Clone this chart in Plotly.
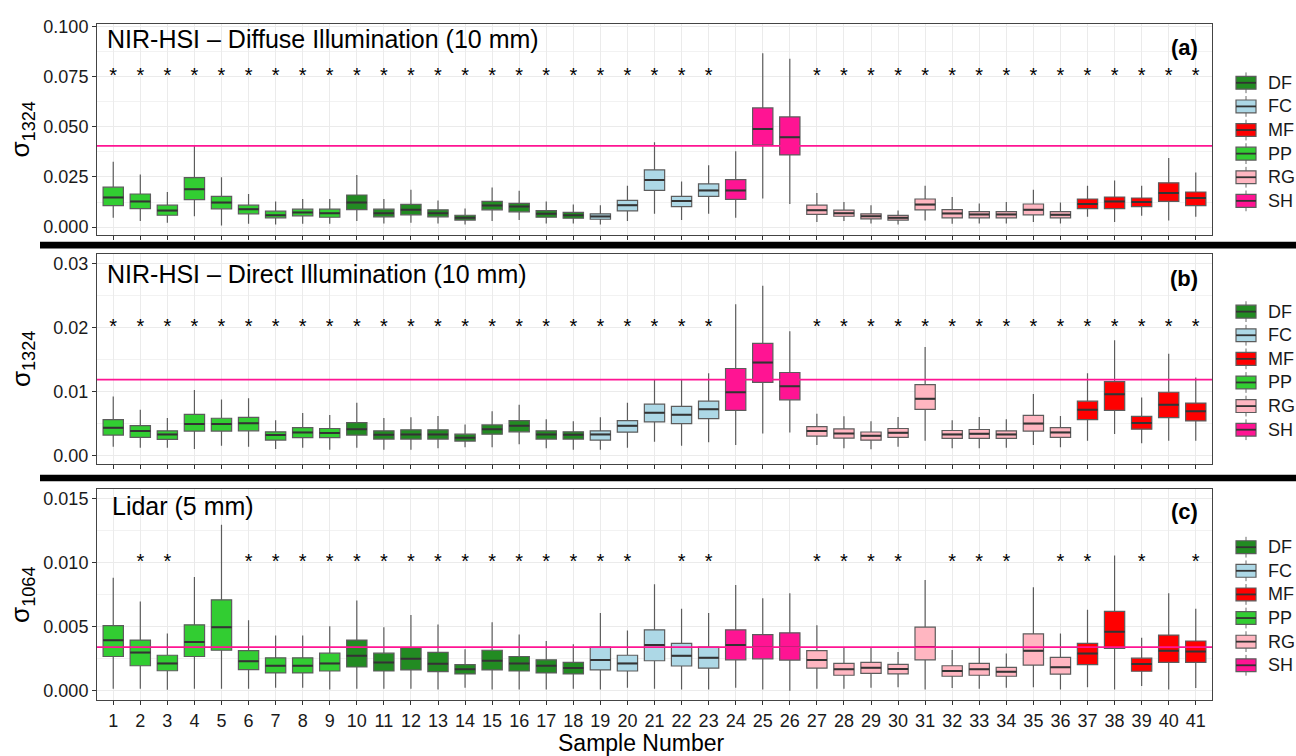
import plotly.graph_objects as go

W, H = 1296, 756
FONT = "Liberation Sans, Arial, sans-serif"

# ---------------- data ----------------
SAMPLES = list(range(1, 42))
GROUP = ["PP"] * 9 + ["DF"] * 9 + ["FC"] * 5 + ["SH"] * 3 + ["RG"] * 10 + ["MF"] * 5
GROUP_ORDER = ["DF", "FC", "MF", "PP", "RG", "SH"]
GROUP_COLORS = {"DF": "#228B22", "FC": "#ADD8E6", "MF": "#FF0000",
                "PP": "#32CD32", "RG": "#FFB6C1", "SH": "#FF1493"}

# Panel (a) NIR-HSI diffuse: lower whisker, q1, median, q3, upper whisker
A_LO = [.0046, .0030, .0022, .0054, .0008, .0017, .0013, .0017, .0017, .0030,
        .0018, .0022, .0018, .0013, .0030, .0035, .0018, .0018, .0013, .0030,
        .0066, .0035, .0066, .0046, .0142, .0115, .0025, .0030, .0018, .0013,
        .0033, .0017, .0018, .0018, .0025, .0018, .0051, .0025, .0056, .0033, .0051]
A_Q1 = [.0107, .0092, .0059, .0137, .0091, .0066, .0046, .0056, .0049, .0087,
        .0051, .0061, .0051, .0035, .0086, .0076, .0049, .0044, .0039, .0081,
        .0183, .0102, .0153, .0138, .0409, .0360, .0063, .0054, .0041, .0035,
        .0086, .0046, .0046, .0046, .0061, .0046, .0092, .0092, .0102, .0128, .0107]
A_MED = [.0148, .0128, .0082, .0189, .0122, .0089, .0059, .0073, .0069, .0122,
         .0069, .0086, .0069, .0046, .0107, .0102, .0066, .0059, .0053, .0109,
         .0235, .0130, .0183, .0183, .0490, .0449, .0084, .0069, .0054, .0046,
         .0112, .0068, .0063, .0063, .0086, .0061, .0115, .0128, .0125, .0170, .0145]
A_Q3 = [.0199, .0165, .0109, .0247, .0153, .0109, .0079, .0089, .0089, .0160,
        .0089, .0113, .0086, .0059, .0128, .0118, .0082, .0073, .0066, .0133,
        .0285, .0153, .0216, .0237, .0595, .0550, .0109, .0084, .0066, .0058,
        .0140, .0087, .0077, .0077, .0115, .0077, .0140, .0150, .0145, .0221, .0175]
A_HI = [.0326, .0263, .0175, .0405, .0249, .0165, .0128, .0140, .0140, .0260,
        .0140, .0186, .0133, .0092, .0197, .0181, .0128, .0112, .0109, .0206,
        .0424, .0227, .0309, .0378, .0868, .0841, .0170, .0125, .0109, .0082,
        .0206, .0150, .0118, .0125, .0186, .0123, .0206, .0232, .0206, .0345, .0273]

# Panel (b) NIR-HSI direct
B_LO = [.00144, .00128, .00128, .00108, .00159, .00144, .00108, .00128, .00097, .00128,
        .00097, .00097, .00118, .00133, .00133, .00180, .00118, .00097, .00097, .00128,
        .00221, .00159, .00211, .00170, .00349, .00365, .00170, .00118, .00103, .00144,
        .00236, .00118, .00118, .00128, .00170, .00133, .00236, .00340, .00195, .00236, .00236]
B_Q1 = [.00324, .00288, .00257, .00386, .00386, .00391, .00247, .00283, .00283, .00324,
        .00262, .00262, .00262, .00231, .00339, .00375, .00262, .00262, .00247, .00370,
        .00530, .00504, .00581, .00710, .01147, .00874, .00309, .00278, .00244, .00288,
        .00726, .00272, .00272, .00272, .00386, .00288, .00565, .00710, .00417, .00596, .00545]
B_MED = [.00437, .00386, .00334, .00499, .00499, .00509, .00324, .00365, .00355, .00417,
         .00329, .00334, .00334, .00283, .00417, .00468, .00334, .00329, .00334, .00468,
         .00674, .00643, .00726, .00993, .01456, .01085, .00386, .00349, .00313, .00360,
         .00890, .00334, .00344, .00334, .00504, .00365, .00720, .00962, .00514, .00797, .00695]
B_Q3 = [.00565, .00473, .00391, .00648, .00587, .00602, .00375, .00442, .00427, .00519,
        .00391, .00406, .00406, .00339, .00483, .00550, .00391, .00375, .00391, .00550,
        .00807, .00772, .00854, .01363, .01754, .01301, .00457, .00421, .00372, .00427,
        .01112, .00396, .00411, .00391, .00633, .00442, .00854, .01158, .00617, .00993, .00823]
B_HI = [.00926, .00720, .00591, .01029, .00880, .00900, .00556, .00668, .00638, .00828,
        .00591, .00602, .00622, .00488, .00695, .00797, .00571, .00540, .00602, .00828,
        .01183, .01183, .01291, .02366, .02655, .01945, .00658, .00617, .00540, .00607,
        .01698, .00556, .00607, .00571, .00967, .00622, .01291, .01806, .00911, .01595, .01224]

# Panel (c) Lidar
C_LO = [.00015, .00015, .00008, .00015, .00015, .00015, .00023, .00023, .00010, .00015,
        .00015, .00015, .00010, .00023, .00010, .00010, .00010, .00015, .00010, .00023,
        .00015, .00010, .00010, .00023, .00010, .00000, .00015, .00015, .00023, .00028,
        .00010, .00021, .00015, .00023, .00028, .00010, .00028, .00010, .00036, .00010, .00021]
C_Q1 = [.00267, .00195, .00156, .00267, .00316, .00164, .00139, .00139, .00154, .00185,
        .00154, .00162, .00149, .00131, .00162, .00154, .00139, .00131, .00162, .00154,
        .00234, .00193, .00177, .00241, .00249, .00239, .00177, .00121, .00136, .00131,
        .00241, .00113, .00121, .00113, .00200, .00129, .00203, .00331, .00152, .00221, .00221]
C_MED = [.00393, .00298, .00213, .00380, .00496, .00231, .00195, .00195, .00213, .00272,
         .00221, .00249, .00210, .00167, .00234, .00213, .00195, .00177, .00239, .00213,
         .00357, .00272, .00257, .00357, .00341, .00341, .00239, .00167, .00180, .00169,
         .00341, .00154, .00167, .00149, .00311, .00183, .00290, .00460, .00208, .00311, .00306]
C_Q3 = [.00508, .00395, .00277, .00514, .00709, .00313, .00257, .00257, .00293, .00395,
        .00293, .00337, .00300, .00203, .00316, .00267, .00241, .00221, .00341, .00277,
        .00475, .00370, .00341, .00475, .00437, .00452, .00313, .00213, .00221, .00206,
        .00496, .00195, .00213, .00183, .00444, .00260, .00370, .00619, .00254, .00434, .00388]
C_HI = [.00881, .00696, .00447, .00888, .01294, .00550, .00431, .00431, .00503, .00703,
        .00496, .00591, .00516, .00324, .00534, .00439, .00388, .00362, .00606, .00470,
        .00830, .00639, .00606, .00824, .00722, .00760, .00511, .00337, .00337, .00303,
        .00863, .00318, .00337, .00290, .00807, .00447, .00632, .01055, .00414, .00760, .00639]

# threshold lines and significance markers
THRESH = [0.0405, 0.0119, 0.00341]
STAR_Y = [0.075, 0.02, 0.01]
STARS_A = [s for s in SAMPLES if s not in (24, 25, 26)]
STARS_B = [s for s in SAMPLES if s not in (24, 25, 26)]
STARS_C = [2, 3, 6, 7, 8, 9, 10, 11, 12, 13, 14, 15, 16, 17, 18, 19, 20, 22, 23,
           27, 28, 29, 30, 32, 33, 34, 36, 37, 39, 41]

PANEL_TITLES = ["NIR-HSI – Diffuse Illumination (10 mm)",
                "NIR-HSI – Direct Illumination (10 mm)",
                "Lidar (5 mm)"]
PANEL_TAGS = ["(a)", "(b)", "(c)"]
Y_TITLES = ["σ<sub>1324</sub>", "σ<sub>1324</sub>", "σ<sub>1064</sub>"]

panels = [
    (A_LO, A_Q1, A_MED, A_Q3, A_HI, STARS_A),
    (B_LO, B_Q1, B_MED, B_Q3, B_HI, STARS_B),
    (C_LO, C_Q1, C_MED, C_Q3, C_HI, STARS_C),
]

# ---------------- layout geometry (pixels) ----------------
PX_L, PX_R = 97, 1212
PANEL_PX = [(17, 231), (250, 462.7), (488.3, 701.7)]
Y_RANGES = [[-0.0041, 0.1015], [-0.0013, 0.0315], [-0.00075, 0.0157]]
Y_TICKS = [dict(dtick=0.025, tickformat=".3f", minor=0.0125),
           dict(dtick=0.01, tickformat=".2f", minor=0.005),
           dict(dtick=0.005, tickformat=".3f", minor=0.0025)]
TITLE_PX = [(105, 32.5), (105, 270.5), (109.5, 505)]
TAG_PX = [(1200, 40.5), (1200, 274.5), (1200, 510.5)]
LEGEND_TOP = [76.7, 308.3, 546.7]
LEGEND_STEP = 23.9


def py(p):
    return 1 - p / H


def px(p):
    return p / W


BOX_W = 0.75
OUTLINE = "#5c5c5c"
fig = go.Figure()

for i, (lo, q1, med, q3, hi, stars) in enumerate(panels):
    k = "" if i == 0 else str(i + 1)
    xa, ya = "x" + k, "y" + k
    for g in GROUP_ORDER:
        idx = [j for j, gg in enumerate(GROUP) if gg == g]
        fig.add_trace(go.Box(
            x=[SAMPLES[j] for j in idx],
            lowerfence=[lo[j] for j in idx], q1=[q1[j] for j in idx],
            median=[med[j] for j in idx], q3=[q3[j] for j in idx],
            upperfence=[hi[j] for j in idx],
            name=g, fillcolor=GROUP_COLORS[g],
            line=dict(color=OUTLINE, width=1.2),
            width=BOX_W, whiskerwidth=0, boxpoints=False,
            xaxis=xa, yaxis=ya, showlegend=False,
            hoverinfo="skip",
        ))
    # emphasised median bars
    mx, my = [], []
    for s, m in zip(SAMPLES, med):
        mx += [s - BOX_W / 2, s + BOX_W / 2, None]
        my += [m, m, None]
    fig.add_trace(go.Scatter(x=mx, y=my, mode="lines",
                             line=dict(color="#333333", width=2),
                             xaxis=xa, yaxis=ya, showlegend=False, hoverinfo="skip"))
    # significance stars
    fig.add_trace(go.Scatter(x=stars, y=[STAR_Y[i]] * len(stars), mode="text",
                             text=["*"] * len(stars),
                             textfont=dict(family=FONT, size=20, color="black"),
                             xaxis=xa, yaxis=ya, showlegend=False, hoverinfo="skip"))

layout = dict(
    width=W, height=H, margin=dict(l=0, r=0, t=0, b=0),
    paper_bgcolor="white", plot_bgcolor="white",
    font=dict(family=FONT, size=18, color="#1a1a1a"),
    boxmode="overlay", showlegend=False,
)

shapes, annots = [], []
for i in range(3):
    k = "" if i == 0 else str(i + 1)
    top, bot = PANEL_PX[i]
    layout["xaxis" + k] = dict(
        domain=[px(PX_L), px(PX_R)], range=[0.4, 41.6], anchor="y" + k,
        tickmode="array", tickvals=SAMPLES, ticktext=[str(s) for s in SAMPLES],
        showticklabels=(i == 2), ticks="outside", ticklen=4, tickcolor="#333333",
        tickfont=dict(size=18, color="#1a1a1a"),
        showgrid=True, gridcolor="#EBEBEB", gridwidth=1,
        showline=True, mirror=True, linecolor="#444444", linewidth=1, zeroline=False,
    )
    yt = Y_TICKS[i]
    layout["yaxis" + k] = dict(
        domain=[py(bot), py(top)], range=Y_RANGES[i], anchor="x" + k,
        tick0=0, dtick=yt["dtick"], tickformat=yt["tickformat"],
        ticks="outside", ticklen=4, tickcolor="#333333",
        tickfont=dict(size=18, color="#1a1a1a"),
        showgrid=True, gridcolor="#EBEBEB", gridwidth=1,
        minor=dict(tick0=yt["minor"], dtick=yt["dtick"], showgrid=True,
                   gridcolor="#F2F2F2", gridwidth=0.8),
        showline=True, mirror=True, linecolor="#444444", linewidth=1, zeroline=False,
    )
    # threshold line
    shapes.append(dict(type="line", xref="x" + k + " domain", yref="y" + k,
                       x0=0, x1=1, y0=THRESH[i], y1=THRESH[i],
                       line=dict(color="#FF1493", width=1.8), layer="above"))
    # panel title and tag
    tx, ty = TITLE_PX[i]
    annots.append(dict(text=PANEL_TITLES[i], xref="paper", yref="paper",
                       x=px(tx), y=py(ty), xanchor="left", yanchor="middle",
                       showarrow=False, font=dict(size=25, color="black")))
    gx, gy = TAG_PX[i]
    annots.append(dict(text="<b>" + PANEL_TAGS[i] + "</b>", xref="paper", yref="paper",
                       x=px(gx), y=py(gy), xanchor="right", yanchor="middle",
                       showarrow=False, font=dict(size=22, color="black")))
    # y axis title
    annots.append(dict(text=Y_TITLES[i], xref="paper", yref="paper",
                       x=px(22), y=py((top + bot) / 2), xanchor="center", yanchor="middle",
                       textangle=-90, showarrow=False, font=dict(size=26, color="black")))
    # legend (ggplot-style boxplot keys)
    for n, g in enumerate(GROUP_ORDER):
        cy = LEGEND_TOP[i] + n * LEGEND_STEP
        kx0, kx1, kxc = 1236, 1256, 1246
        shapes.append(dict(type="line", xref="paper", yref="paper",
                           x0=px(kxc), x1=px(kxc), y0=py(cy - 10.5), y1=py(cy + 10.5),
                           line=dict(color="#6a6a6a", width=1)))
        shapes.append(dict(type="rect", xref="paper", yref="paper",
                           x0=px(kx0), x1=px(kx1), y0=py(cy + 6.5), y1=py(cy - 6.5),
                           fillcolor=GROUP_COLORS[g], line=dict(color=OUTLINE, width=1.2)))
        shapes.append(dict(type="line", xref="paper", yref="paper",
                           x0=px(kx0), x1=px(kx1), y0=py(cy), y1=py(cy),
                           line=dict(color="#333333", width=1.8)))
        annots.append(dict(text=g, xref="paper", yref="paper",
                           x=px(1266), y=py(cy), xanchor="left", yanchor="middle",
                           showarrow=False, font=dict(size=18, color="#1a1a1a")))

# thick separators between panels
for y0, y1 in [(237.5, 244.5), (473.3, 480)]:
    shapes.append(dict(type="rect", xref="paper", yref="paper",
                       x0=px(40), x1=1, y0=py(y1), y1=py(y0),
                       fillcolor="black", line=dict(width=0), layer="above"))

annots.append(dict(text="Sample Number", xref="paper", yref="paper",
                   x=px(641), y=py(745), xanchor="center", yanchor="middle",
                   showarrow=False, font=dict(size=23, color="black")))

layout["shapes"] = shapes
layout["annotations"] = annots
fig.update_layout(**layout)
fig.write_html("out.html")
